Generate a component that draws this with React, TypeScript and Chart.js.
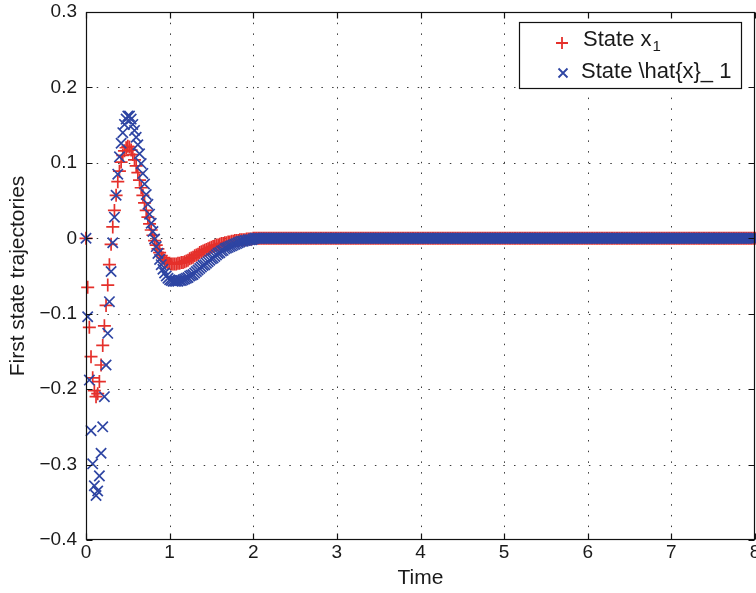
import { useEffect, useRef } from "react";
import { Chart, registerables } from "chart.js";

Chart.register(...registerables);

// ---- data ----
const DT = 0.02; // sampling step of the simulation (time units)
const xTicks = [0, 1, 2, 3, 4, 5, 6, 7, 8];
const yTicks = [-0.4, -0.3, -0.2, -0.1, 0, 0.1, 0.2, 0.3];
const xTitle = "Time";
const yTitle = "First state trajectories";
const legendLabel1 = "State x";
const legendLabel1Sub = "1";
const legendLabel2 = "State \\hat{x}_ 1";

// t = 0.00 ... 2.00 (step 0.02)
const x1Transient = [
  0, -0.065, -0.118, -0.157, -0.185, -0.202, -0.21, -0.206, -0.19, -0.168,
  -0.142, -0.116, -0.089, -0.062, -0.035, -0.008, 0.015, 0.037, 0.057, 0.075,
  0.089, 0.101, 0.11, 0.116, 0.12, 0.122, 0.121, 0.117, 0.111, 0.104,
  0.096, 0.087, 0.077, 0.067, 0.057, 0.047, 0.037, 0.028, 0.019, 0.011,
  0.004, -0.003, -0.009, -0.014, -0.019, -0.023, -0.026, -0.029, -0.031, -0.033,
  -0.033, -0.034, -0.034, -0.034, -0.034, -0.033, -0.033, -0.032, -0.032, -0.031,
  -0.03, -0.029, -0.027, -0.026, -0.025, -0.023, -0.022, -0.021, -0.019, -0.018,
  -0.017, -0.016, -0.015, -0.014, -0.013, -0.012, -0.011, -0.01, -0.009, -0.009,
  -0.008, -0.007, -0.007, -0.006, -0.006, -0.005, -0.005, -0.004, -0.004, -0.003,
  -0.003, -0.003, -0.002, -0.002, -0.002, -0.002, -0.001, -0.001, -0.001, -0.001,
  0,
];

const xhat1Transient = [
  0, -0.104, -0.188, -0.255, -0.299, -0.328, -0.341, -0.335, -0.315, -0.285,
  -0.25, -0.21, -0.168, -0.126, -0.084, -0.044, -0.006, 0.028, 0.057, 0.085,
  0.108, 0.126, 0.14, 0.151, 0.158, 0.162, 0.162, 0.158, 0.151, 0.143,
  0.134, 0.124, 0.112, 0.099, 0.086, 0.072, 0.058, 0.045, 0.032, 0.02,
  0.009, -0.001, -0.011, -0.02, -0.028, -0.035, -0.041, -0.046, -0.05, -0.053,
  -0.055, -0.056, -0.057, -0.057, -0.057, -0.057, -0.056, -0.056, -0.055, -0.054,
  -0.053, -0.052, -0.05, -0.049, -0.048, -0.046, -0.044, -0.042, -0.04, -0.038,
  -0.036, -0.035, -0.033, -0.031, -0.029, -0.027, -0.026, -0.024, -0.022, -0.02,
  -0.019, -0.017, -0.016, -0.014, -0.013, -0.012, -0.011, -0.01, -0.009, -0.008,
  -0.007, -0.006, -0.005, -0.004, -0.004, -0.003, -0.003, -0.002, -0.002, -0.002,
  -0.001,
];

// t = 2.02 ... 8.00 (step 0.02): settled at zero
const settledTail = [
  0, 0, 0, 0, 0, 0, 0, 0, 0, 0,
  0, 0, 0, 0, 0, 0, 0, 0, 0, 0,
  0, 0, 0, 0, 0, 0, 0, 0, 0, 0,
  0, 0, 0, 0, 0, 0, 0, 0, 0, 0,
  0, 0, 0, 0, 0, 0, 0, 0, 0, 0,
  0, 0, 0, 0, 0, 0, 0, 0, 0, 0,
  0, 0, 0, 0, 0, 0, 0, 0, 0, 0,
  0, 0, 0, 0, 0, 0, 0, 0, 0, 0,
  0, 0, 0, 0, 0, 0, 0, 0, 0, 0,
  0, 0, 0, 0, 0, 0, 0, 0, 0, 0,
  0, 0, 0, 0, 0, 0, 0, 0, 0, 0,
  0, 0, 0, 0, 0, 0, 0, 0, 0, 0,
  0, 0, 0, 0, 0, 0, 0, 0, 0, 0,
  0, 0, 0, 0, 0, 0, 0, 0, 0, 0,
  0, 0, 0, 0, 0, 0, 0, 0, 0, 0,
  0, 0, 0, 0, 0, 0, 0, 0, 0, 0,
  0, 0, 0, 0, 0, 0, 0, 0, 0, 0,
  0, 0, 0, 0, 0, 0, 0, 0, 0, 0,
  0, 0, 0, 0, 0, 0, 0, 0, 0, 0,
  0, 0, 0, 0, 0, 0, 0, 0, 0, 0,
  0, 0, 0, 0, 0, 0, 0, 0, 0, 0,
  0, 0, 0, 0, 0, 0, 0, 0, 0, 0,
  0, 0, 0, 0, 0, 0, 0, 0, 0, 0,
  0, 0, 0, 0, 0, 0, 0, 0, 0, 0,
  0, 0, 0, 0, 0, 0, 0, 0, 0, 0,
  0, 0, 0, 0, 0, 0, 0, 0, 0, 0,
  0, 0, 0, 0, 0, 0, 0, 0, 0, 0,
  0, 0, 0, 0, 0, 0, 0, 0, 0, 0,
  0, 0, 0, 0, 0, 0, 0, 0, 0, 0,
  0, 0, 0, 0, 0, 0, 0, 0, 0, 0,
];

const x1Values = [...x1Transient, ...settledTail];
const xhat1Values = [...xhat1Transient, ...settledTail];

// ---- styles ----
const RED = "#e5302b";
const BLUE = "#2e45a3";
const FONT = '"Liberation Sans", Arial, Helvetica, sans-serif';
const TEXT = "#1a1a1a";

const toPoints = (vals: number[]) =>
  vals.map((v, i) => ({ x: Math.round(i * DT * 100) / 100, y: v }));

const fmtY = (v: number) => {
  const r = Math.round(v * 10) / 10;
  if (r === 0) return "0";
  return r < 0 ? "\u2212" + Math.abs(r).toFixed(1) : r.toFixed(1);
};

const decorPlugin = {
  id: "decor",
  beforeDatasetsDraw(chart: any) {
    const { ctx, chartArea: a, scales } = chart;
    const xs = scales.x;
    const ys = scales.y;
    ctx.save();
    ctx.strokeStyle = "#3a3a3a";
    ctx.lineWidth = 1;
    ctx.setLineDash([1.5, 9.2]);
    for (const v of xTicks) {
      const px = Math.round(xs.getPixelForValue(v)) + 0.5;
      if (px <= a.left + 1 || px >= a.right - 1) continue;
      ctx.beginPath();
      ctx.moveTo(px, a.top);
      ctx.lineTo(px, a.bottom);
      ctx.stroke();
    }
    for (const v of yTicks) {
      const py = Math.round(ys.getPixelForValue(v)) + 0.5;
      if (py <= a.top + 1 || py >= a.bottom - 1) continue;
      ctx.beginPath();
      ctx.moveTo(a.left, py);
      ctx.lineTo(a.right, py);
      ctx.stroke();
    }
    ctx.restore();
  },
  afterDatasetsDraw(chart: any) {
    const { ctx, chartArea: a, scales } = chart;
    const xs = scales.x;
    const ys = scales.y;
    ctx.save();
    ctx.strokeStyle = "#111";
    ctx.lineWidth = 1.2;
    ctx.setLineDash([]);
    const L = Math.round(a.left) + 0.5;
    const R = Math.round(a.right) - 0.5;
    const T = Math.round(a.top) + 0.5;
    const B = Math.round(a.bottom) - 0.5;
    ctx.strokeRect(L, T, R - L, B - T);
    const tl = 6;
    ctx.beginPath();
    for (const v of xTicks) {
      const px = Math.round(xs.getPixelForValue(v)) + 0.5;
      ctx.moveTo(px, B);
      ctx.lineTo(px, B - tl);
      ctx.moveTo(px, T);
      ctx.lineTo(px, T + tl);
    }
    for (const v of yTicks) {
      const py = Math.round(ys.getPixelForValue(v)) + 0.5;
      ctx.moveTo(L, py);
      ctx.lineTo(L + tl, py);
      ctx.moveTo(R, py);
      ctx.lineTo(R - tl, py);
    }
    ctx.stroke();
    ctx.restore();
  },
  afterDraw(chart: any) {
    const { ctx, chartArea: a, scales } = chart;
    const xs = scales.x;
    ctx.save();
    // x tick labels
    ctx.fillStyle = TEXT;
    ctx.font = `19px ${FONT}`;
    ctx.textAlign = "center";
    ctx.textBaseline = "middle";
    for (const v of xTicks) {
      ctx.fillText(String(v), xs.getPixelForValue(v), a.bottom + 13);
    }
    // axis titles
    ctx.font = `21px ${FONT}`;
    ctx.fillText(xTitle, (a.left + a.right) / 2, 578);
    ctx.save();
    ctx.translate(18, (a.top + a.bottom) / 2);
    ctx.rotate(-Math.PI / 2);
    ctx.fillText(yTitle, 0, 0);
    ctx.restore();

    // legend
    ctx.fillStyle = "#ffffff";
    ctx.fillRect(519.5, 22.5, 222, 66);
    ctx.strokeStyle = "#111";
    ctx.lineWidth = 1.2;
    ctx.strokeRect(519.5, 22.5, 222, 66);

    // red plus
    ctx.strokeStyle = RED;
    ctx.lineWidth = 1.8;
    ctx.beginPath();
    ctx.moveTo(562 - 6, 43);
    ctx.lineTo(562 + 6, 43);
    ctx.moveTo(562, 43 - 6);
    ctx.lineTo(562, 43 + 6);
    ctx.stroke();
    // blue x
    ctx.strokeStyle = BLUE;
    ctx.beginPath();
    ctx.moveTo(563 - 4.5, 73 - 4.5);
    ctx.lineTo(563 + 4.5, 73 + 4.5);
    ctx.moveTo(563 - 4.5, 73 + 4.5);
    ctx.lineTo(563 + 4.5, 73 - 4.5);
    ctx.stroke();

    ctx.fillStyle = TEXT;
    ctx.textAlign = "left";
    ctx.textBaseline = "alphabetic";
    ctx.font = `22px ${FONT}`;
    ctx.fillText(legendLabel1, 583, 46);
    const w1 = ctx.measureText(legendLabel1).width;
    ctx.font = `15px ${FONT}`;
    ctx.fillText(legendLabel1Sub, 583 + w1 + 1, 51);
    ctx.font = `22px ${FONT}`;
    ctx.fillText(legendLabel2, 581, 78);
    ctx.restore();
  },
};

export default function App() {
  const canvasRef = useRef<HTMLCanvasElement | null>(null);

  useEffect(() => {
    const canvas = canvasRef.current;
    if (!canvas) return;
    const chart = new Chart(canvas, {
      type: "scatter",
      data: {
        datasets: [
          {
            label: legendLabel2,
            data: toPoints(xhat1Values),
            pointStyle: "crossRot",
            pointRadius: 7.3,
            pointBorderWidth: 1.7,
            borderColor: BLUE,
            backgroundColor: BLUE,
            pointHoverRadius: 7.3,
            showLine: false,
            clip: false as any,
          },
          {
            label: legendLabel1 + legendLabel1Sub,
            data: toPoints(x1Values),
            pointStyle: "cross",
            pointRadius: 6.5,
            pointBorderWidth: 1.7,
            borderColor: RED,
            backgroundColor: RED,
            pointHoverRadius: 6.5,
            showLine: false,
            clip: false as any,
          },
        ],
      },
      options: {
        animation: false,
        responsive: false,
        devicePixelRatio: 1,
        events: [],
        layout: { autoPadding: false, padding: { top: 12, right: 1, left: 0, bottom: 0 } },
        plugins: {
          legend: { display: false },
          tooltip: { enabled: false },
        },
        scales: {
          x: {
            type: "linear",
            min: 0,
            max: 8,
            afterFit: (s: any) => {
              s.height = 53;
              s.paddingLeft = 0;
              s.paddingRight = 0;
            },
            afterBuildTicks: (s: any) => {
              s.ticks = xTicks.map((v) => ({ value: v }));
            },
            grid: { display: false, drawTicks: false },
            border: { display: false },
            ticks: { display: false },
          },
          y: {
            type: "linear",
            min: -0.4,
            max: 0.3,
            afterFit: (s: any) => {
              s.width = 86;
              s.paddingTop = 0;
              s.paddingBottom = 0;
            },
            afterBuildTicks: (s: any) => {
              s.ticks = yTicks.map((v) => ({ value: v }));
            },
            grid: { display: false, drawTicks: false },
            border: { display: false },
            ticks: {
              padding: 9,
              color: TEXT,
              font: { family: FONT, size: 19 },
              callback: (v: any) => fmtY(Number(v)),
            },
          },
        },
      },
      plugins: [decorPlugin],
    });
    return () => chart.destroy();
  }, []);

  return (
    <div style={{ position: "absolute", left: 0, top: 0, width: 756, height: 593, background: "#fff" }}>
      <canvas ref={canvasRef} width={756} height={593} style={{ display: "block" }} />
    </div>
  );
}
